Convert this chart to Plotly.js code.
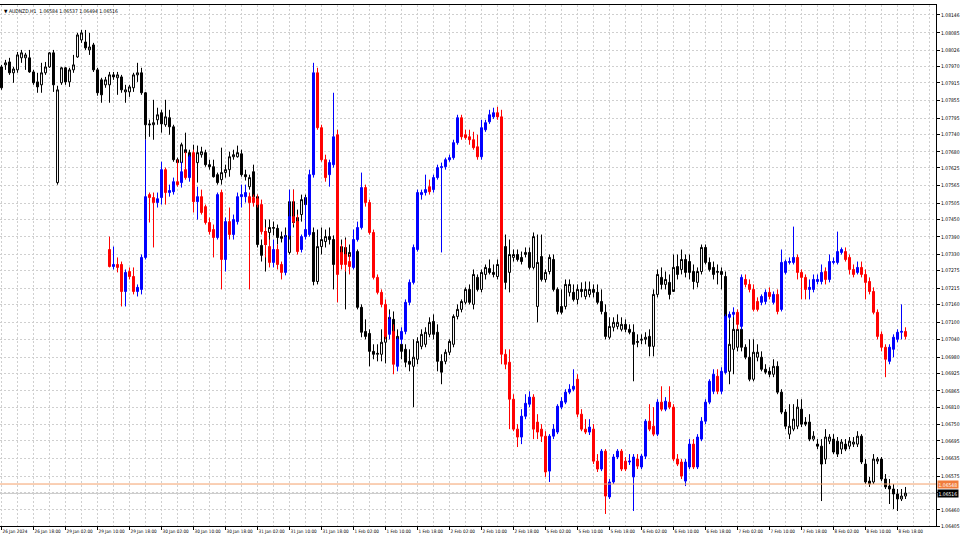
<!DOCTYPE html>
<html>
<head>
<meta charset="utf-8">
<script src="https://cdn.plot.ly/plotly-3.0.1.min.js"></script>
<style>
html,body{margin:0;padding:0;background:#fff;}
#chart{width:960px;height:540px;}
</style>
</head>
<body>
<div id="chart"></div>
<script>
// ---- AUDNZD,H1 main candles (bar 0 = 26 Jan 2024 10:00) ----
const blackOpen = [1.07969,1.07976,1.07986,1.07949,1.07959,1.08000,1.08000,1.08000,1.07952,1.07918,
1.07908,1.07949,1.07969,1.08017,1.07575,1.07915,1.07966,1.07918,1.07959,1.08003,
1.08061,1.08054,1.08027,1.08044,1.07959,1.07925,1.07908,1.07908,1.07942,1.07932,
1.07935,1.07884,1.07884,1.07898,1.07942,1.07949,1.07881,1.07775,1.07772,1.07789,
1.07813,1.07772,1.07796,1.07765,1.07653,1.07643,1.07687,1.07677,1.07653,1.07643,
1.07670,1.07677,1.07636,1.07629,1.07602,1.07585,1.07609,1.07619,1.07663,1.07663,
1.07673,1.07602,1.07561,1.07612,1.07527,1.07361,1.07364,1.07405,1.07419,1.07419,
1.07391,1.07388,1.07337,1.07510,1.07442,1.07466,1.07524,1.07500,1.07405,1.07238,
1.07357,1.07374,1.07391,1.07381,1.07296,1.07330,1.07354,1.07323,1.07330,1.07340,
1.07150,1.07068,1.07061,1.07000,1.06990,1.06990,1.07031,1.07068,1.07109,1.07051,
1.07024,1.07007,1.06966,1.06949,1.06973,1.07017,1.07024,1.07058,1.07102,1.07065,
1.06966,1.06966,1.06997,1.07024,1.07119,1.07143,1.07167,1.07211,1.07160,1.07252,
1.07211,1.07262,1.07282,1.07269,1.07255,1.07296,1.07357,1.07269,1.07320,1.07330,
1.07320,1.07330,1.07337,1.07286,1.07153,1.07323,1.07245,1.07272,1.07313,1.07211,
1.07153,1.07153,1.07201,1.07201,1.07177,1.07211,1.07187,1.07194,1.07211,1.07201,
1.07170,1.07133,1.07048,1.07082,1.07085,1.07075,1.07092,1.07075,1.07065,1.07034,
1.07038,1.07041,1.07051,1.07017,1.07194,1.07252,1.07228,1.07235,1.07204,1.07289,
1.07279,1.07313,1.07306,1.07272,1.07235,1.07272,1.07354,1.07303,1.07286,1.07269,
1.07272,1.07255,1.06932,1.07007,1.07014,1.07075,1.07014,1.06980,1.06905,1.06980,
1.06980,1.06939,1.06932,1.06922,1.06949,1.06861,1.06793,1.06718,1.06735,1.06745,
1.06803,1.06759,1.06759,1.06701,1.06684,1.06677,1.06633,1.06694,1.06701,1.06694,
1.06667,1.06684,1.06677,1.06684,1.06684,1.06711,1.06616,1.06558,1.06555,1.06626,
1.06633,1.06565,1.06541,1.06531,1.06514,1.06497,1.06507];
const blackHigh = [1.07976,1.07993,1.08000,1.07969,1.08020,1.08027,1.08017,1.08027,1.07959,1.07949,
1.07983,1.07986,1.08020,1.08027,1.07905,1.07969,1.07969,1.07966,1.08010,1.08085,
1.08095,1.08095,1.08085,1.08051,1.07966,1.07932,1.07935,1.07952,1.07952,1.07952,
1.07942,1.07908,1.07908,1.07949,1.07983,1.07966,1.07884,1.07789,1.07857,1.07830,
1.07823,1.07857,1.07823,1.07772,1.07660,1.07711,1.07745,1.07687,1.07704,1.07701,
1.07697,1.07687,1.07653,1.07653,1.07609,1.07694,1.07636,1.07680,1.07687,1.07701,
1.07687,1.07619,1.07602,1.07636,1.07534,1.07381,1.07449,1.07449,1.07442,1.07432,
1.07408,1.07422,1.07517,1.07551,1.07483,1.07534,1.07534,1.07517,1.07422,1.07415,
1.07422,1.07415,1.07422,1.07395,1.07347,1.07381,1.07388,1.07364,1.07354,1.07347,
1.07160,1.07109,1.07075,1.07024,1.07024,1.07075,1.07143,1.07143,1.07136,1.07075,
1.07048,1.07024,1.07007,1.07041,1.07048,1.07075,1.07082,1.07116,1.07126,1.07092,
1.06990,1.07007,1.07041,1.07126,1.07160,1.07177,1.07218,1.07228,1.07279,1.07262,
1.07279,1.07296,1.07313,1.07296,1.07313,1.07347,1.07398,1.07381,1.07347,1.07347,
1.07340,1.07354,1.07354,1.07405,1.07398,1.07398,1.07279,1.07330,1.07330,1.07218,
1.07211,1.07245,1.07245,1.07228,1.07228,1.07235,1.07238,1.07238,1.07228,1.07228,
1.07211,1.07160,1.07116,1.07116,1.07126,1.07116,1.07109,1.07092,1.07092,1.07058,
1.07058,1.07065,1.07075,1.07211,1.07279,1.07286,1.07272,1.07262,1.07330,1.07330,
1.07347,1.07330,1.07330,1.07296,1.07286,1.07364,1.07364,1.07320,1.07306,1.07296,
1.07286,1.07272,1.07109,1.07143,1.07092,1.07160,1.07024,1.07041,1.07041,1.07024,
1.07000,1.06956,1.06946,1.06973,1.06966,1.06871,1.06803,1.06820,1.06820,1.06837,
1.06837,1.06776,1.06786,1.06728,1.06701,1.06701,1.06735,1.06718,1.06718,1.06708,
1.06701,1.06701,1.06708,1.06708,1.06728,1.06718,1.06633,1.06572,1.06650,1.06640,
1.06640,1.06582,1.06565,1.06548,1.06531,1.06531,1.06538];
const blackLow = [1.07891,1.07959,1.07942,1.07915,1.07949,1.07983,1.07959,1.07949,1.07908,1.07881,
1.07881,1.07942,1.07966,1.07884,1.07568,1.07908,1.07908,1.07901,1.07949,1.08000,
1.08051,1.08027,1.08010,1.07952,1.07871,1.07847,1.07898,1.07847,1.07925,1.07874,
1.07881,1.07847,1.07867,1.07884,1.07918,1.07874,1.07721,1.07731,1.07721,1.07772,
1.07745,1.07765,1.07738,1.07646,1.07636,1.07636,1.07636,1.07636,1.07636,1.07575,
1.07660,1.07629,1.07619,1.07592,1.07568,1.07568,1.07592,1.07595,1.07653,1.07660,
1.07595,1.07582,1.07551,1.07517,1.07354,1.07306,1.07272,1.07364,1.07395,1.07364,
1.07371,1.07364,1.07330,1.07422,1.07415,1.07442,1.07483,1.07398,1.07225,1.07228,
1.07330,1.07354,1.07364,1.07211,1.07279,1.07306,1.07143,1.07306,1.07303,1.07143,
1.07048,1.07041,1.06949,1.06973,1.06966,1.06966,1.06959,1.07058,1.07007,1.07000,
1.06973,1.06946,1.06932,1.06810,1.06956,1.07007,1.07014,1.07048,1.07041,1.06932,
1.06888,1.06956,1.06987,1.07014,1.07109,1.07133,1.07160,1.07160,1.07143,1.07204,
1.07201,1.07245,1.07262,1.07252,1.07245,1.07245,1.07211,1.07201,1.07306,1.07306,
1.07296,1.07320,1.07279,1.07279,1.07099,1.07238,1.07235,1.07262,1.07204,1.07126,
1.07126,1.07143,1.07187,1.07170,1.07160,1.07184,1.07177,1.07184,1.07184,1.07160,
1.07126,1.07041,1.07041,1.07068,1.07075,1.07068,1.07065,1.07058,1.06898,1.07014,
1.07024,1.07024,1.06983,1.06983,1.07184,1.07211,1.07211,1.07177,1.07211,1.07245,
1.07262,1.07252,1.07245,1.07211,1.07218,1.07262,1.07296,1.07272,1.07245,1.07228,
1.07211,1.06922,1.06888,1.06922,1.07000,1.07000,1.06973,1.06898,1.06898,1.06966,
1.06932,1.06922,1.06912,1.06912,1.06854,1.06786,1.06735,1.06701,1.06728,1.06735,
1.06742,1.06745,1.06694,1.06694,1.06667,1.06490,1.06616,1.06684,1.06650,1.06640,
1.06650,1.06660,1.06667,1.06674,1.06674,1.06616,1.06548,1.06538,1.06548,1.06616,
1.06558,1.06531,1.06480,1.06463,1.06456,1.06490,1.06497];
const blackClose = [1.07898,1.07983,1.07949,1.07962,1.08010,1.08017,1.08010,1.07952,1.07915,1.07901,
1.07949,1.07969,1.08017,1.07908,1.07891,1.07966,1.07918,1.07959,1.07976,1.08078,
1.08085,1.08034,1.08037,1.07959,1.07881,1.07874,1.07925,1.07942,1.07935,1.07942,
1.07891,1.07891,1.07901,1.07942,1.07949,1.07881,1.07772,1.07772,1.07779,1.07806,
1.07775,1.07799,1.07765,1.07653,1.07643,1.07704,1.07677,1.07653,1.07670,1.07677,
1.07680,1.07636,1.07629,1.07595,1.07575,1.07609,1.07619,1.07663,1.07670,1.07677,
1.07602,1.07595,1.07592,1.07527,1.07364,1.07327,1.07408,1.07422,1.07422,1.07388,
1.07385,1.07395,1.07510,1.07439,1.07456,1.07517,1.07500,1.07408,1.07238,1.07357,
1.07381,1.07391,1.07381,1.07296,1.07313,1.07357,1.07323,1.07337,1.07320,1.07150,
1.07065,1.07051,1.07000,1.06990,1.06993,1.07031,1.07051,1.07116,1.07051,1.07024,
1.07000,1.06963,1.06956,1.06980,1.07034,1.07058,1.07065,1.07099,1.07058,1.06966,
1.06929,1.06997,1.07034,1.07119,1.07143,1.07170,1.07211,1.07167,1.07262,1.07211,
1.07269,1.07286,1.07269,1.07262,1.07296,1.07306,1.07235,1.07330,1.07330,1.07313,
1.07306,1.07337,1.07286,1.07391,1.07303,1.07245,1.07269,1.07320,1.07211,1.07136,
1.07133,1.07228,1.07228,1.07177,1.07211,1.07204,1.07211,1.07211,1.07201,1.07167,
1.07136,1.07051,1.07085,1.07099,1.07099,1.07092,1.07075,1.07065,1.07024,1.07031,
1.07041,1.07048,1.07017,1.07194,1.07262,1.07228,1.07245,1.07194,1.07286,1.07262,
1.07313,1.07269,1.07269,1.07238,1.07272,1.07354,1.07303,1.07279,1.07262,1.07272,
1.07262,1.06929,1.07024,1.07075,1.07075,1.07014,1.06980,1.06905,1.06997,1.06997,
1.06939,1.06929,1.06922,1.06949,1.06861,1.06793,1.06745,1.06745,1.06769,1.06810,
1.06752,1.06752,1.06701,1.06711,1.06677,1.06616,1.06708,1.06708,1.06657,1.06650,
1.06691,1.06667,1.06694,1.06691,1.06711,1.06623,1.06555,1.06548,1.06633,1.06633,
1.06565,1.06538,1.06531,1.06514,1.06497,1.06507,1.06517];

// ---- red/blue overlay candles, first bar index ----
const overlayStart = 27;
const overlayOpen = [1.07347,1.07289,1.07296,1.07296,1.07204,1.07272,1.07255,1.07204,1.07211,1.07320,
1.07534,1.07524,1.07507,1.07524,1.07619,1.07541,1.07544,1.07578,1.07575,1.07619,
1.07592,1.07677,1.07510,1.07527,1.07493,1.07439,1.07415,1.07388,1.07541,1.07313,
1.07442,1.07398,1.07442,1.07527,1.07527,1.07527,1.07524,1.07520,1.07500,1.07408,
1.07357,1.07303,1.07347,1.07296,1.07269,1.07395,1.07459,1.07442,1.07347,1.07391,
1.07398,1.07602,1.07949,1.07762,1.07653,1.07602,1.07636,1.07738,1.07337,1.07330,
1.07306,1.07286,1.07381,1.07422,1.07558,1.07507,1.07405,1.07252,1.07201,1.07160,
1.07058,1.07068,1.06949,1.07041,1.07068,1.07167,1.07235,1.07347,1.07534,1.07541,
1.07561,1.07551,1.07592,1.07626,1.07629,1.07653,1.07660,1.07711,1.07796,1.07738,
1.07731,1.07721,1.07697,1.07663,1.07755,1.07782,1.07799,1.07813,1.07799,1.06990,
1.06963,1.06837,1.06735,1.06708,1.06779,1.06820,1.06844,1.06759,1.06735,1.06711,
1.06592,1.06711,1.06725,1.06810,1.06827,1.06861,1.06871,1.06905,1.06786,1.06735,
1.06725,1.06735,1.06626,1.06599,1.06660,1.06504,1.06555,1.06640,1.06660,1.06626,
1.06623,1.06572,1.06633,1.06606,1.06643,1.06762,1.06745,1.06718,1.06827,1.06803,
1.06827,1.06810,1.06633,1.06623,1.06558,1.06606,1.06684,1.06606,1.06701,1.06762,
1.06827,1.06864,1.06915,1.06864,1.06929,1.07116,1.07126,1.07133,1.07085,1.07245,
1.07228,1.07211,1.07170,1.07167,1.07170,1.07201,1.07167,1.07194,1.07143,1.07269,
1.07303,1.07303,1.07320,1.07269,1.07252,1.07211,1.07211,1.07238,1.07238,1.07272,
1.07245,1.07303,1.07303,1.07337,1.07340,1.07320,1.07279,1.07269,1.07286,1.07262,
1.07238,1.07204,1.07133,1.07058,1.07014,1.06966,1.07007,1.07041,1.07065,1.07068];
const overlayHigh = [1.07391,1.07357,1.07320,1.07306,1.07279,1.07286,1.07286,1.07228,1.07330,1.07721,
1.07541,1.07541,1.07541,1.07646,1.07626,1.07568,1.07592,1.07653,1.07646,1.07680,
1.07670,1.07687,1.07561,1.07551,1.07500,1.07456,1.07432,1.07541,1.07551,1.07456,
1.07490,1.07466,1.07541,1.07568,1.07568,1.07541,1.07534,1.07534,1.07517,1.07422,
1.07381,1.07381,1.07364,1.07306,1.07398,1.07551,1.07551,1.07466,1.07398,1.07527,
1.07619,1.07983,1.07966,1.07772,1.07670,1.07653,1.07881,1.07755,1.07364,1.07381,
1.07330,1.07415,1.07442,1.07609,1.07568,1.07517,1.07415,1.07262,1.07211,1.07177,
1.07126,1.07092,1.07048,1.07082,1.07177,1.07245,1.07364,1.07551,1.07551,1.07602,
1.07585,1.07602,1.07636,1.07643,1.07660,1.07670,1.07721,1.07806,1.07806,1.07755,
1.07755,1.07748,1.07738,1.07789,1.07789,1.07823,1.07830,1.07833,1.07823,1.07007,
1.07007,1.06854,1.06752,1.06803,1.06854,1.06864,1.06854,1.06786,1.06752,1.06728,
1.06718,1.06752,1.06820,1.06844,1.06871,1.06888,1.06939,1.06922,1.06803,1.06769,
1.06769,1.06752,1.06650,1.06667,1.06667,1.06565,1.06650,1.06667,1.06667,1.06640,
1.06650,1.06650,1.06650,1.06650,1.06769,1.06820,1.06810,1.06837,1.06881,1.06844,
1.06881,1.06820,1.06650,1.06633,1.06633,1.06701,1.06701,1.06718,1.06776,1.06837,
1.06905,1.06939,1.06939,1.06946,1.07126,1.07136,1.07150,1.07143,1.07262,1.07262,
1.07245,1.07228,1.07184,1.07194,1.07211,1.07218,1.07204,1.07211,1.07347,1.07313,
1.07320,1.07425,1.07330,1.07279,1.07262,1.07245,1.07262,1.07262,1.07296,1.07286,
1.07330,1.07320,1.07408,1.07354,1.07354,1.07330,1.07296,1.07306,1.07306,1.07279,
1.07252,1.07218,1.07143,1.07068,1.07024,1.07024,1.07058,1.07075,1.07160,1.07082];
const overlayLow = [1.07286,1.07279,1.07269,1.07153,1.07153,1.07245,1.07194,1.07187,1.07194,1.07313,
1.07439,1.07354,1.07490,1.07500,1.07500,1.07527,1.07534,1.07561,1.07558,1.07585,
1.07578,1.07473,1.07449,1.07466,1.07432,1.07398,1.07320,1.07381,1.07211,1.07272,
1.07381,1.07381,1.07432,1.07490,1.07507,1.07211,1.07493,1.07490,1.07398,1.07320,
1.07286,1.07286,1.07279,1.07245,1.07259,1.07381,1.07432,1.07330,1.07337,1.07381,
1.07391,1.07592,1.07755,1.07646,1.07578,1.07561,1.07626,1.07167,1.07279,1.07272,
1.07262,1.07279,1.07374,1.07415,1.07493,1.07398,1.07245,1.07194,1.07150,1.07041,
1.07041,1.06922,1.06932,1.07024,1.07058,1.07157,1.07228,1.07340,1.07517,1.07531,
1.07534,1.07541,1.07585,1.07337,1.07619,1.07646,1.07653,1.07704,1.07721,1.07721,
1.07704,1.07687,1.07653,1.07653,1.07748,1.07775,1.07792,1.07789,1.06956,1.06939,
1.06735,1.06728,1.06674,1.06684,1.06769,1.06810,1.06701,1.06701,1.06691,1.06572,
1.06555,1.06701,1.06718,1.06803,1.06820,1.06854,1.06864,1.06776,1.06728,1.06718,
1.06715,1.06616,1.06589,1.06592,1.06446,1.06497,1.06548,1.06633,1.06592,1.06592,
1.06613,1.06456,1.06599,1.06599,1.06633,1.06728,1.06711,1.06711,1.06796,1.06796,
1.06803,1.06626,1.06609,1.06565,1.06541,1.06599,1.06599,1.06599,1.06694,1.06752,
1.06820,1.06854,1.06854,1.06854,1.06922,1.07109,1.07116,1.07075,1.07075,1.07218,
1.07201,1.07136,1.07136,1.07157,1.07160,1.07177,1.07160,1.07126,1.07136,1.07262,
1.07296,1.07296,1.07245,1.07177,1.07177,1.07177,1.07201,1.07228,1.07228,1.07228,
1.07235,1.07296,1.07296,1.07330,1.07306,1.07262,1.07252,1.07262,1.07252,1.07177,
1.07194,1.07126,1.07041,1.07000,1.06912,1.06956,1.06980,1.07031,1.07041,1.07041];
const overlayClose = [1.07289,1.07296,1.07286,1.07204,1.07269,1.07255,1.07204,1.07218,1.07320,1.07527,
1.07524,1.07507,1.07520,1.07619,1.07541,1.07548,1.07578,1.07568,1.07612,1.07592,
1.07663,1.07510,1.07527,1.07473,1.07439,1.07408,1.07388,1.07534,1.07313,1.07442,
1.07398,1.07449,1.07527,1.07534,1.07541,1.07507,1.07507,1.07500,1.07408,1.07364,
1.07303,1.07347,1.07296,1.07269,1.07388,1.07459,1.07442,1.07340,1.07391,1.07415,
1.07602,1.07949,1.07762,1.07653,1.07592,1.07643,1.07731,1.07262,1.07296,1.07296,
1.07289,1.07381,1.07422,1.07558,1.07507,1.07405,1.07252,1.07201,1.07160,1.07051,
1.07109,1.06956,1.07041,1.07068,1.07167,1.07235,1.07354,1.07541,1.07541,1.07551,
1.07544,1.07592,1.07626,1.07629,1.07653,1.07660,1.07711,1.07796,1.07731,1.07728,
1.07721,1.07694,1.07663,1.07762,1.07779,1.07806,1.07813,1.07799,1.06990,1.06956,
1.06837,1.06735,1.06708,1.06779,1.06823,1.06844,1.06735,1.06725,1.06711,1.06589,
1.06711,1.06735,1.06813,1.06830,1.06861,1.06871,1.06881,1.06786,1.06735,1.06725,
1.06742,1.06626,1.06599,1.06660,1.06507,1.06555,1.06640,1.06660,1.06599,1.06599,
1.06626,1.06640,1.06609,1.06643,1.06762,1.06735,1.06718,1.06827,1.06803,1.06830,
1.06810,1.06633,1.06616,1.06575,1.06623,1.06684,1.06606,1.06708,1.06762,1.06827,
1.06898,1.06922,1.06864,1.06932,1.07119,1.07126,1.07133,1.07092,1.07252,1.07228,
1.07211,1.07143,1.07143,1.07187,1.07201,1.07187,1.07194,1.07136,1.07303,1.07306,
1.07306,1.07320,1.07269,1.07252,1.07211,1.07218,1.07245,1.07245,1.07269,1.07245,
1.07306,1.07306,1.07340,1.07347,1.07313,1.07279,1.07262,1.07286,1.07262,1.07235,
1.07204,1.07133,1.07051,1.07014,1.06973,1.07014,1.07048,1.07065,1.07068,1.07051];

// ---- axis texts ----
const timeLabels = ["26 Jan 2024","26 Jan 18:00","29 Jan 02:00","29 Jan 10:00","29 Jan 18:00",
"30 Jan 02:00","30 Jan 10:00","30 Jan 18:00","31 Jan 02:00","31 Jan 10:00","31 Jan 18:00",
"1 Feb 02:00","1 Feb 10:00","1 Feb 18:00","2 Feb 02:00","2 Feb 10:00","2 Feb 18:00",
"5 Feb 02:00","5 Feb 10:00","5 Feb 18:00","6 Feb 02:00","6 Feb 10:00","6 Feb 18:00",
"7 Feb 02:00","7 Feb 10:00","7 Feb 18:00","8 Feb 02:00","8 Feb 10:00","8 Feb 18:00"];
const priceLabels = ["1.08146","1.08085","1.08026","1.07970","1.07915","1.07855","1.07795","1.07740",
"1.07680","1.07625","1.07565","1.07505","1.07450","1.07390","1.07330","1.07275","1.07215","1.07160",
"1.07100","1.07040","1.06980","1.06925","1.06865","1.06810","1.06750","1.06695","1.06635","1.06575",
"1.06520","1.06460","1.06405"];
const titleText = "\u25BC AUDNZD,H1  1.06584 1.06537 1.06494 1.06516";
const markLevel = 1.06548;
const bidLevel = 1.06516;

const FONT = "'Liberation Sans Narrow','DejaVu Sans Condensed','Liberation Sans',Arial,sans-serif";
const barsPerLabel = 8;

const blackX = blackClose.map((_, i) => i);
const overlayX = overlayClose.map((_, i) => i + overlayStart);
// the grid label sitting under the bid price box is hidden by that box in the original
const shownPriceText = priceLabels.map(l => Math.abs(Number(l) - bidLevel) < 0.0001 ? '' : l);

const traces = [
  {
    type: 'candlestick', x: blackX,
    open: blackOpen, high: blackHigh, low: blackLow, close: blackClose,
    increasing: {line: {color: '#000000', width: 1}, fillcolor: '#ffffff'},
    decreasing: {line: {color: '#000000', width: 1}, fillcolor: '#000000'},
    whiskerwidth: 0, showlegend: false, hoverinfo: 'none'
  },
  {
    type: 'candlestick', x: overlayX,
    open: overlayOpen, high: overlayHigh, low: overlayLow, close: overlayClose,
    increasing: {line: {color: '#0000ff', width: 1}, fillcolor: '#0000ff'},
    decreasing: {line: {color: '#ff0000', width: 1}, fillcolor: '#ff0000'},
    whiskerwidth: 0, showlegend: false, hoverinfo: 'none'
  }
];

const gridDash = '2px,2px';
const layout = {
  width: 960, height: 540,
  margin: {l: 0, r: 24, t: 5, b: 14},
  paper_bgcolor: '#ffffff', plot_bgcolor: '#ffffff',
  showlegend: false,
  boxgap: 0.3,
  font: {family: FONT, size: 5, color: '#000000'},
  xaxis: {
    type: 'linear',
    range: [-0.375, 233.625],
    rangeslider: {visible: false},
    tickmode: 'array',
    tickvals: timeLabels.map((_, i) => i * barsPerLabel),
    ticktext: timeLabels,
    tickangle: 0,
    ticks: 'outside', ticklen: 3, tickcolor: '#000000', tickwidth: 1,
    ticklabelposition: 'outside right',
    tickfont: {family: FONT, size: 4.6, color: '#000000'},
    showgrid: true, gridcolor: '#cfcfcf', gridwidth: 1, griddash: gridDash,
    minor: {tickmode: 'linear', tick0: 0, dtick: 4, showgrid: true, gridcolor: '#cfcfcf', griddash: gridDash, gridwidth: 1},
    showline: true, linecolor: '#000000', linewidth: 1, mirror: true,
    zeroline: false, fixedrange: true, automargin: false
  },
  yaxis: {
    side: 'right',
    range: [1.06405, 1.08180],
    tickmode: 'array',
    tickvals: priceLabels.map(Number),
    ticktext: shownPriceText,
    ticks: 'outside', ticklen: 3, tickcolor: '#000000', tickwidth: 1,
    tickfont: {family: FONT, size: 5, color: '#000000'},
    showgrid: true, gridcolor: '#cfcfcf', gridwidth: 1, griddash: gridDash,
    showline: true, linecolor: '#000000', linewidth: 1, mirror: true,
    zeroline: false, fixedrange: true, automargin: false
  },
  shapes: [
    {type: 'line', xref: 'paper', x0: 0, x1: 1, yref: 'y', y0: markLevel, y1: markLevel,
     line: {color: '#f4a06a', width: 1}},
    {type: 'line', xref: 'paper', x0: 0, x1: 1, yref: 'y', y0: bidLevel, y1: bidLevel,
     line: {color: '#c8c8c8', width: 1}, layer: 'below'}
  ],
  annotations: [
    {xref: 'paper', yref: 'paper', x: 0.002, y: 0.999, xanchor: 'left', yanchor: 'top',
     text: titleText, showarrow: false, font: {family: FONT, size: 5, color: '#000000'}},
    {xref: 'paper', yref: 'y', x: 1, y: markLevel, xanchor: 'left', yanchor: 'middle',
     xshift: 1, text: markLevel.toFixed(5), showarrow: false, bgcolor: '#f07c3c', borderpad: 0.5,
     font: {family: FONT, size: 5, color: '#ffffff'}},
    {xref: 'paper', yref: 'y', x: 1, y: bidLevel, xanchor: 'left', yanchor: 'middle',
     xshift: 1, text: bidLevel.toFixed(5), showarrow: false, bgcolor: '#000000', borderpad: 0.5,
     font: {family: FONT, size: 5, color: '#ffffff'}}
  ]
};

Plotly.newPlot('chart', traces, layout, {staticPlot: true, displayModeBar: false});
</script>
</body>
</html>
